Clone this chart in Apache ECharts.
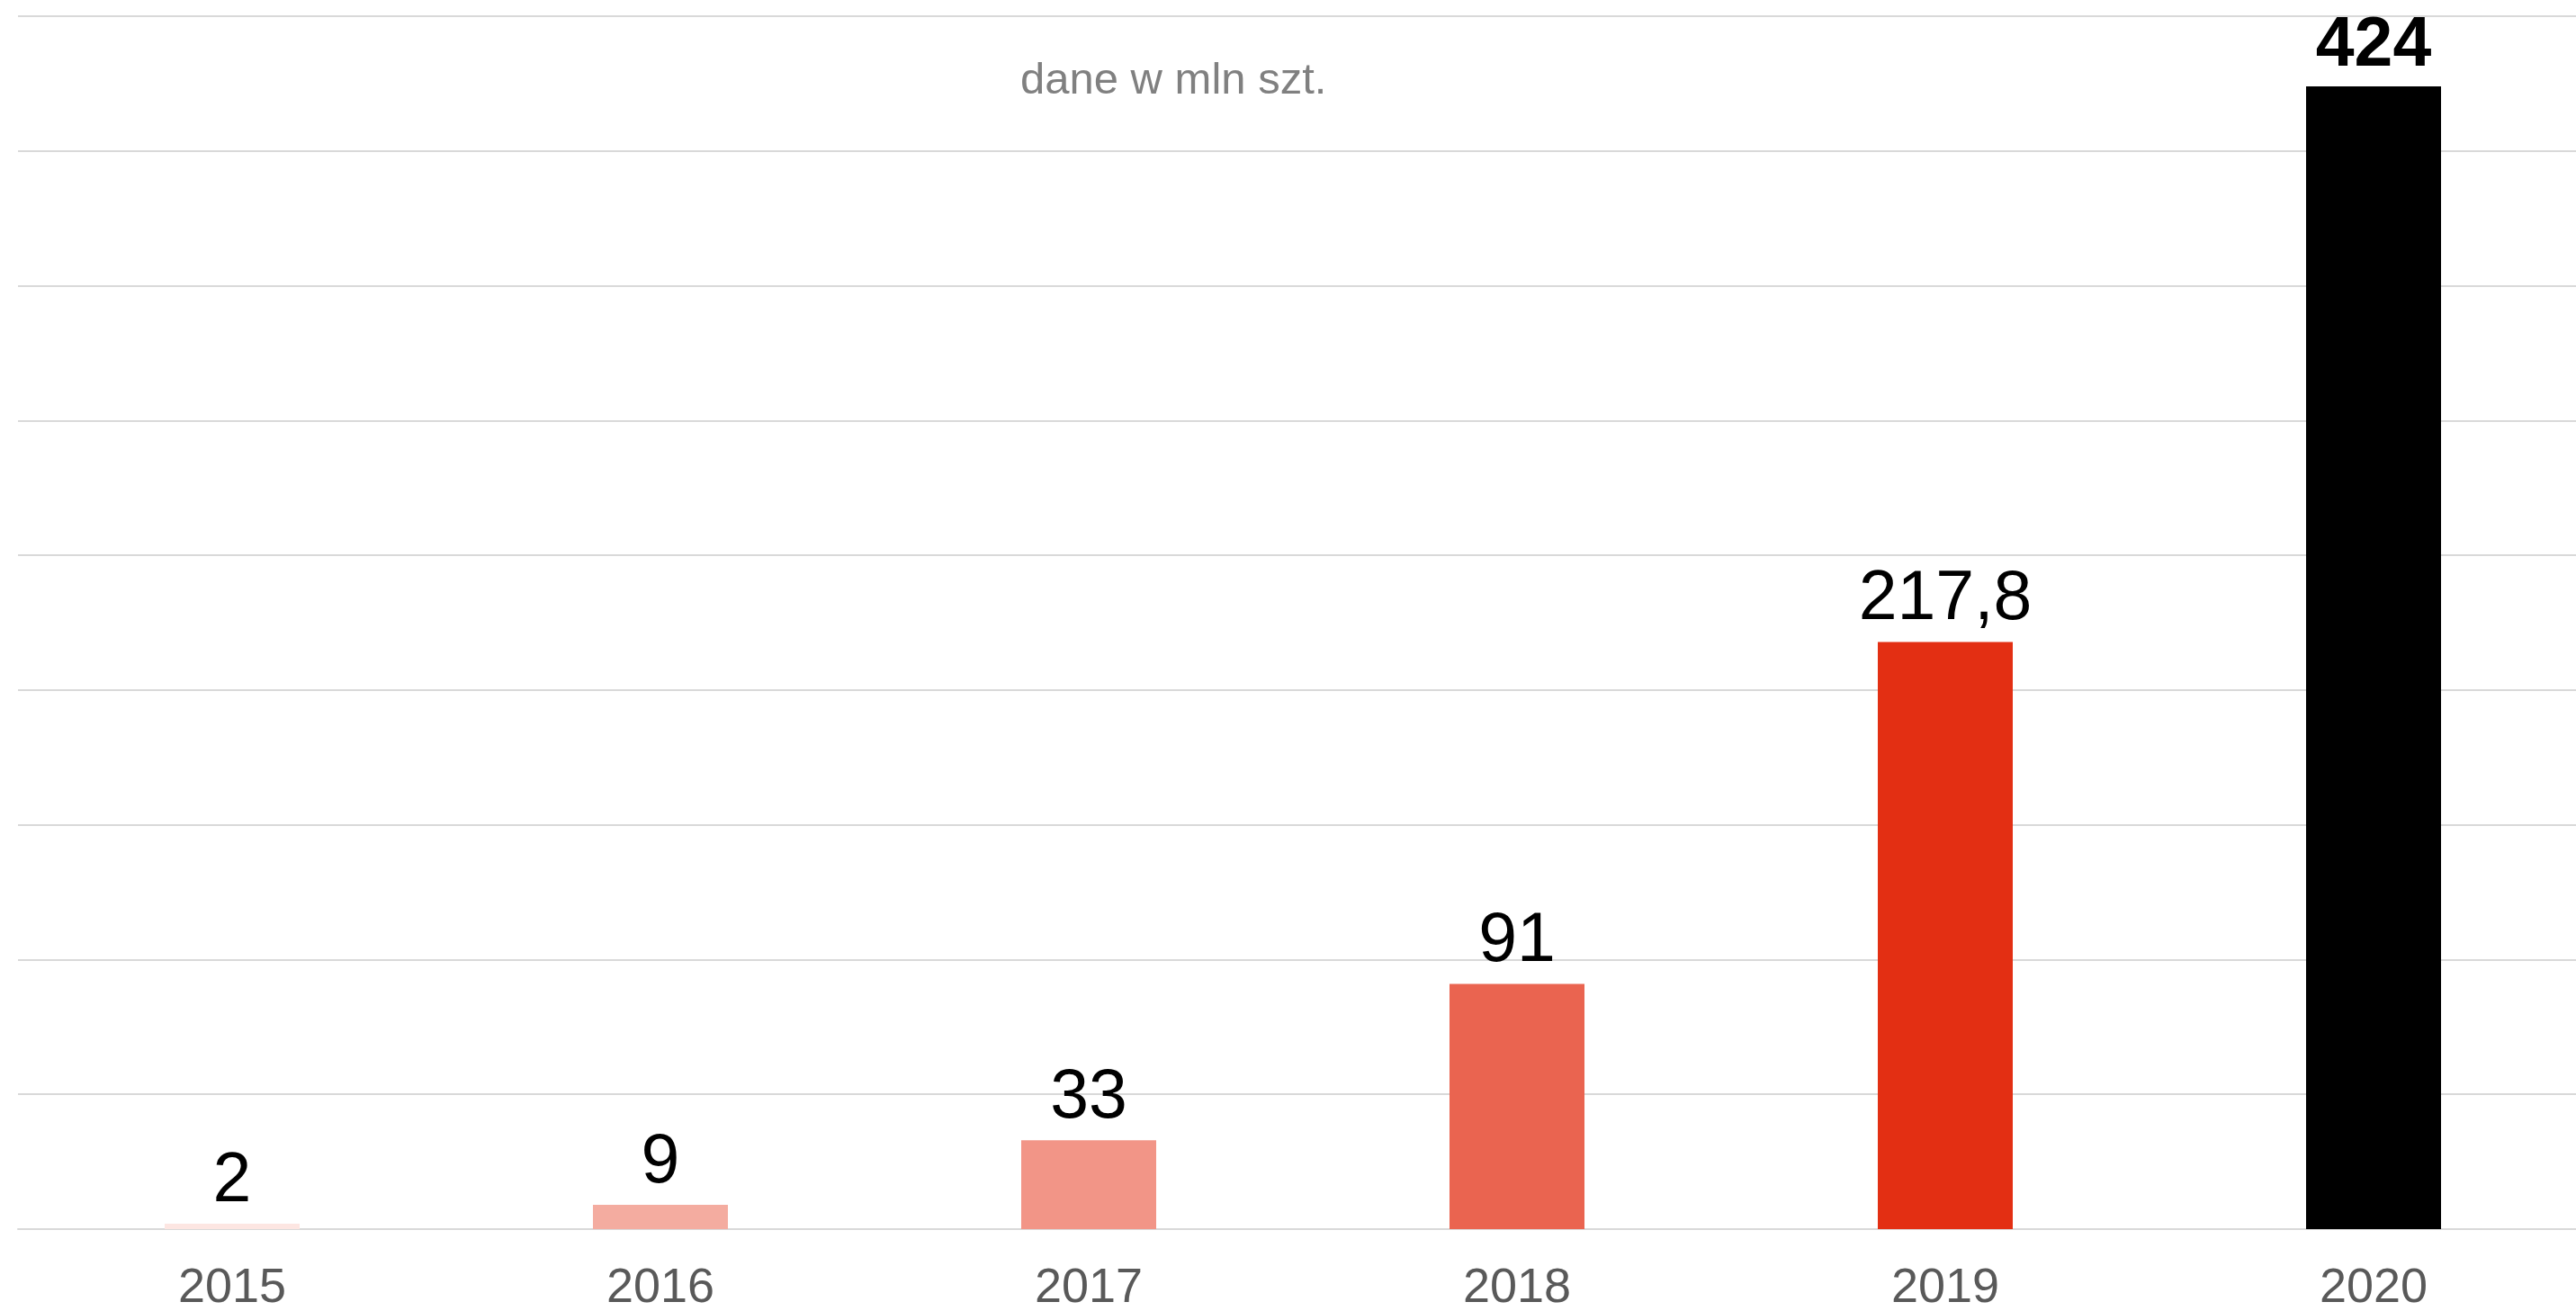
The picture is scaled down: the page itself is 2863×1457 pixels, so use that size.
<!DOCTYPE html>
<html>
<head>
<meta charset="utf-8">
<title>dane w mln szt.</title>
<script src="https://cdn.jsdelivr.net/npm/echarts@6/dist/echarts.min.js"></script>
<style>
    html, body { margin: 0; padding: 0; background: #fff; }
    #chart { width: 2863px; height: 1457px; }
</style>
</head>
<body>
<div id="chart"></div>
<script>
'use strict';

// lata i wartości (mln szt.)
var years = ['2015', '2016', '2017', '2018', '2019', '2020'];
var values = [2, 9, 33, 91, 217.8, 424];
var barColors = ['#fde6e2', '#f4aca0', '#f29587', '#ea6450', '#e32f13', '#000000'];

var fontFamily = '"Liberation Sans", Arial, sans-serif';

var chart = echarts.init(document.getElementById('chart'));

var seriesData = values.map(function (v, i) {
    var item = {
        value: v,
        itemStyle: { color: barColors[i] }
    };
    // ostatni słupek - pogrubiona etykieta
    if (i === values.length - 1) {
        item.label = { fontWeight: 'bold', fontSize: 77, distance: 6 };
    }
    return item;
});

var option = {
    animation: false,
    backgroundColor: '#ffffff',
    title: {
        text: 'dane w mln szt.',
        left: 1134,
        top: 66,
        padding: 0,
        textStyle: {
            color: '#808080',
            fontSize: 49,
            fontWeight: 'normal',
            fontFamily: fontFamily
        }
    },
    grid: {
        left: 20,
        top: 18,
        right: -13,
        bottom: 91,
        outerBoundsMode: 'none'
    },
    xAxis: {
        type: 'category',
        data: years,
        boundaryGap: true,
        axisLine: {
            lineStyle: { color: '#d9d9d9', width: 2 }
        },
        axisTick: { show: false },
        axisLabel: {
            color: '#595959',
            fontSize: 54,
            fontFamily: fontFamily,
            margin: 39
        }
    },
    yAxis: {
        type: 'value',
        min: 0,
        max: 450,
        interval: 50,
        axisLine: { show: false },
        axisTick: { show: false },
        axisLabel: { show: false },
        splitLine: {
            lineStyle: { color: '#d9d9d9', width: 2 }
        }
    },
    series: [{
        type: 'bar',
        data: seriesData,
        barWidth: 150,
        label: {
            show: true,
            position: 'top',
            distance: 8,
            color: '#000000',
            fontSize: 77,
            fontFamily: fontFamily,
            formatter: function (p) {
                return String(p.value).replace('.', ',');
            }
        }
    }]
};

chart.setOption(option);
</script>
</body>
</html>
